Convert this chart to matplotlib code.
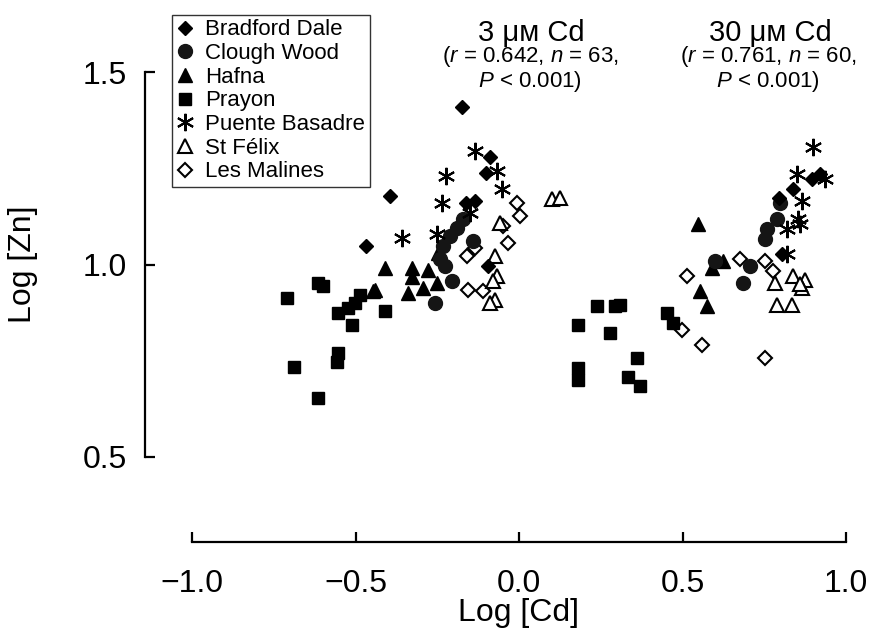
import matplotlib
matplotlib.use('Agg')
from matplotlib import pyplot as plt

plt.rcParams['font.family'] = ['Liberation Sans', 'DejaVu Sans']
plt.rcParams['mathtext.fontset'] = 'custom'
plt.rcParams['mathtext.rm'] = 'Liberation Sans'
plt.rcParams['mathtext.it'] = 'Liberation Sans:italic'

# Log [Cd] / Log [Zn] per population (3 uM cluster on the left, 30 uM on the right)
bd_x = [-0.174, -0.394, -0.468, -0.089, -0.101, -0.162, -0.135, -0.095,
        0.896, 0.838, 0.795, 0.804, 0.92]
bd_y = [1.408, 1.177, 1.047, 1.278, 1.237, 1.161, 1.164, 0.995,
        1.221, 1.195, 1.174, 1.026, 1.235]

cw_x = [-0.257, -0.141, -0.19, -0.211, -0.232, -0.242, -0.226, -0.205, -0.171,
        0.706, 0.685, 0.599, 0.758, 0.789, 0.798, 0.752]
cw_y = [0.901, 1.06, 1.096, 1.073, 1.047, 1.013, 0.995, 0.956, 1.117,
        0.995, 0.953, 1.008, 1.091, 1.117, 1.161, 1.065]

hf_x = [-0.41, -0.44, -0.327, -0.327, -0.34, -0.294, -0.251, -0.278, -0.446, -0.248,
        0.547, 0.59, 0.624, 0.553, 0.574]
hf_y = [0.992, 0.935, 0.992, 0.967, 0.925, 0.94, 0.953, 0.987, 0.930, 1.031,
        1.104, 0.992, 1.008, 0.93, 0.891]

pr_x = [-0.709, -0.615, -0.6, -0.554, -0.523, -0.502, -0.486, -0.511, -0.41,
        -0.554, -0.557, -0.688, -0.615,
        0.238, 0.294, 0.309, 0.18, 0.278, 0.18, 0.18, 0.361, 0.333, 0.37, 0.453, 0.471]
pr_y = [0.914, 0.953, 0.945, 0.873, 0.886, 0.899, 0.922, 0.844, 0.878,
        0.771, 0.748, 0.735, 0.654,
        0.893, 0.891, 0.896, 0.844, 0.821, 0.732, 0.701, 0.758, 0.709, 0.685, 0.873, 0.849]

pb_x = [-0.135, -0.223, -0.067, -0.052, -0.235, -0.358, -0.251, -0.15,
        0.899, 0.85, 0.936, 0.865, 0.853, 0.859, 0.82, 0.82]
pb_y = [1.294, 1.229, 1.242, 1.195, 1.161, 1.07, 1.078, 1.135,
        1.304, 1.234, 1.221, 1.164, 1.117, 1.104, 1.091, 1.026]

sf_x = [0.101, 0.125, -0.058, -0.073, -0.067, -0.079, -0.073, -0.089,
        0.783, 0.838, 0.875, 0.865, 0.789, 0.835, 0.86]
sf_y = [1.169, 1.174, 1.109, 1.021, 0.969, 0.956, 0.909, 0.901,
        0.953, 0.969, 0.961, 0.94, 0.896, 0.896, 0.95]

lm_x = [-0.006, 0.003, -0.049, -0.034, -0.135, -0.159, -0.156, -0.11,
        0.514, 0.498, 0.56, 0.752, 0.676, 0.752, 0.777]
lm_y = [1.161, 1.127, 1.099, 1.057, 1.044, 1.021, 0.935, 0.930,
        0.971, 0.831, 0.792, 0.758, 1.013, 1.008, 0.982]

x_ticks = [-1.0, -0.5, 0.0, 0.5, 1.0]
x_ticklabels = ['\u22121.0', '\u22120.5', '0.0', '0.5', '1.0']
y_ticks = [0.5, 1.0, 1.5]

fig = plt.figure(figsize=(8.69, 6.29), dpi=100)
W, H = 869, 629
ax = fig.add_axes([192 / W, 1 - 457 / H, 654 / W, 385 / H])
ax.patch.set_alpha(0)

blk = 'black'
ax.plot(lm_x, lm_y, 'D', ms=7, mfc='white', mec=blk, mew=1.5, ls='none', label='Les Malines')
ax.plot(sf_x, sf_y, '^', ms=10.5, mfc='white', mec=blk, mew=1.5, ls='none', label='St F\u00e9lix')
ax.plot(pr_x, pr_y, 's', ms=9.3, color=blk, ls='none', label='Prayon')
ax.plot(hf_x, hf_y, '^', ms=10.5, color=blk, ls='none', label='Hafna')
ax.plot(cw_x, cw_y, 'o', ms=10, color='#151515', ls='none', label='Clough Wood')
ax.plot(bd_x, bd_y, 'D', ms=7.2, color=blk, ls='none', label='Bradford Dale')
ax.plot(pb_x, pb_y, marker=(6, 2, 0), ms=12.5, mec=blk, mew=1.5, ls='none', label='Puente Basadre')

ax.set_xlim(-1.0, 1.0)
ax.set_ylim(0.5, 1.5)
ax.spines['top'].set_visible(False)
ax.spines['right'].set_visible(False)
ax.spines['left'].set_position(('outward', 34))
ax.spines['bottom'].set_position(('outward', 61))
ax.spines['left'].set_bounds(0.5, 1.5)
ax.spines['bottom'].set_bounds(-1.0, 1.0)
for s in ['left', 'bottom']:
    ax.spines[s].set_linewidth(1.6)
ax.set_xticks(x_ticks)
ax.set_xticklabels(x_ticklabels)
ax.set_yticks(y_ticks)
ax.set_yticklabels(['%.1f' % v for v in y_ticks])
ax.tick_params(direction='in', length=7, width=1.6, labelsize=23)
ax.tick_params(axis='x', pad=20)
ax.tick_params(axis='y', pad=13)
ax.set_xlabel('Log [Cd]', fontsize=23, labelpad=-1)
ax.set_ylabel('Log [Zn]', fontsize=23, labelpad=32)

order = ['Bradford Dale', 'Clough Wood', 'Hafna', 'Prayon', 'Puente Basadre', 'St F\u00e9lix', 'Les Malines']
handles, labels = ax.get_legend_handles_labels()
hmap = dict(zip(labels, handles))
leg = ax.legend([hmap[k] for k in order], order, loc='upper left',
                bbox_to_anchor=(-20 / 654, 1 + 57 / 385), borderaxespad=0,
                fontsize=16, frameon=True, fancybox=False, edgecolor='black',
                markerscale=1.0, handlelength=0.8, handletextpad=0.5,
                labelspacing=0.12, borderpad=0.2)
leg.get_frame().set_linewidth(1.0)

fig.text(531 / W, 1 - 33 / H, '3 \u03bc\u1d0d Cd', ha='center', va='center', fontsize=21)
fig.text(530 / W, 1 - 69 / H, '($r$ = 0.642, $n$ = 63,\n$P$ < 0.001)', ha='center', va='center',
         fontsize=16, linespacing=0.95)
fig.text(770 / W, 1 - 33 / H, '30 \u03bc\u1d0d Cd', ha='center', va='center', fontsize=21)
fig.text(768 / W, 1 - 69 / H, '($r$ = 0.761, $n$ = 60,\n$P$ < 0.001)', ha='center', va='center',
         fontsize=16, linespacing=0.95)

fig.savefig('out.png', dpi=100)
